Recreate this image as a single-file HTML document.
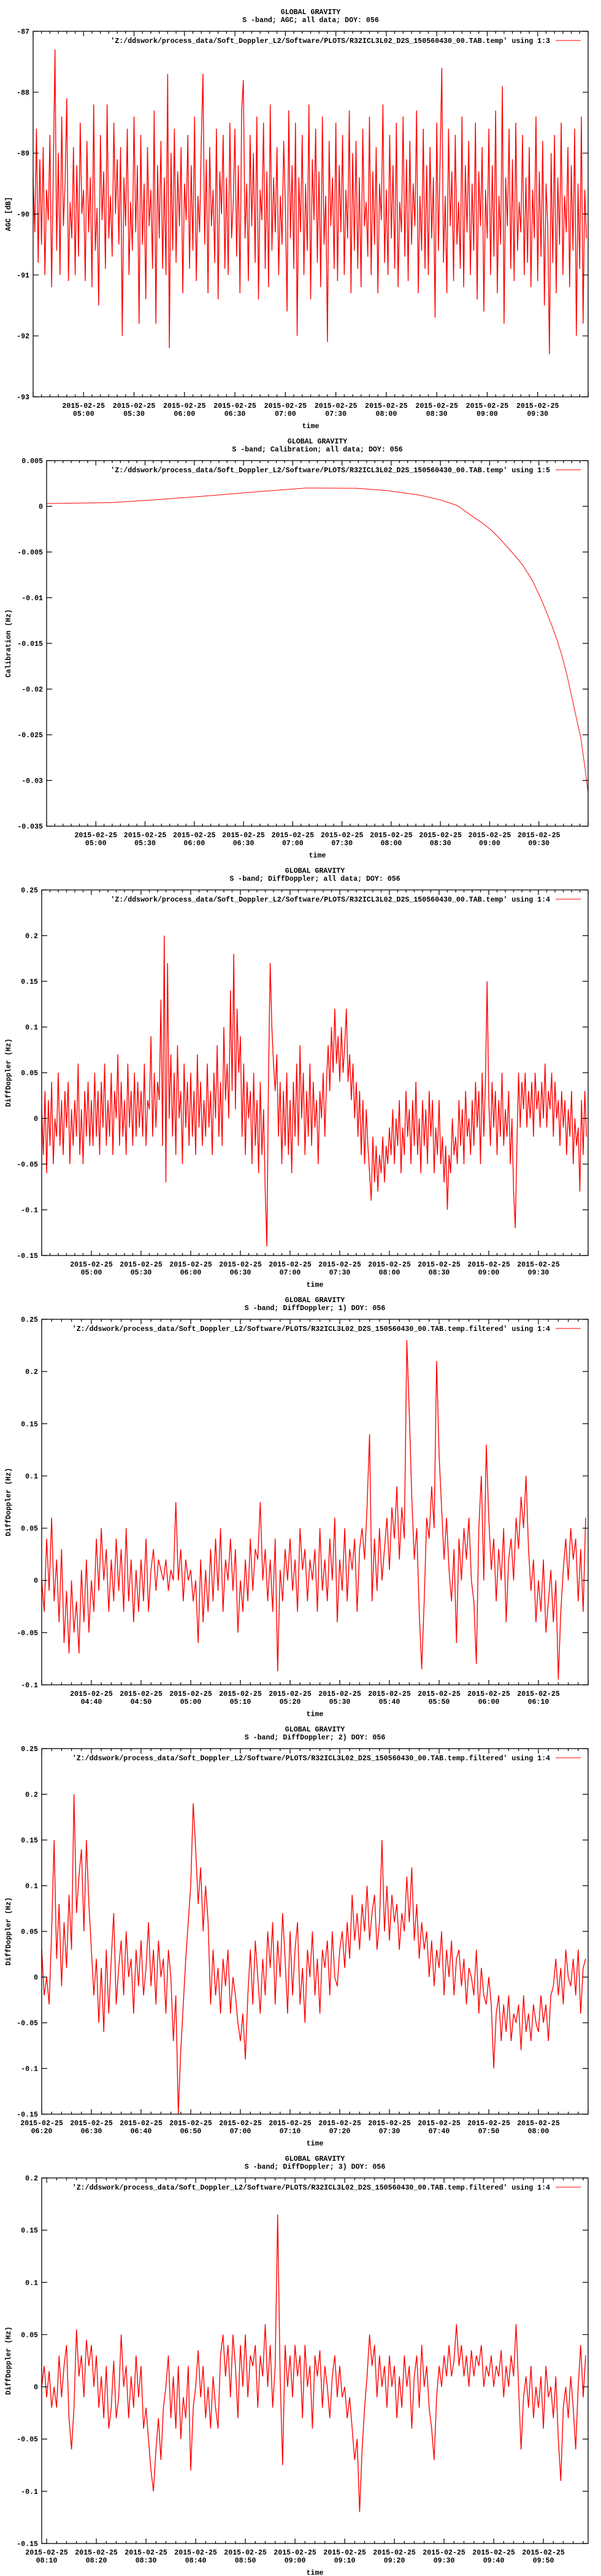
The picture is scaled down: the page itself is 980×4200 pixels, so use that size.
<!DOCTYPE html>
<html><head><meta charset="utf-8">
<style>
html,body{margin:0;padding:0;background:#fff;}
svg{display:block;}
text{font-family:"Liberation Mono","DejaVu Sans Mono",monospace;font-weight:bold;font-size:11.6px;fill:#000;}
</style></head>
<body>
<svg id="root" width="980" height="4200" viewBox="0 0 980 4200" xmlns="http://www.w3.org/2000/svg"></svg>
<script>
// ---------- DATA ----------
// Panel 1: AGC [dB], one sample per minute from 04:30
const agcValues = [
-89.4,-90.3,-88.6,-90.8,-89.1,-90.5,-88.9,-91.0,-89.6,-90.1,-88.7,-91.2,-89.3,-87.3,-90.6,-89.0,-91.0,-88.4,-90.2,-89.5,-88.1,-91.1,-89.8,-90.4,-88.9,-91.0,-89.2,-90.7,-88.5,-90.0,
-89.6,-91.1,-88.8,-90.3,-89.4,-91.2,-88.2,-90.6,-89.9,-91.5,-88.7,-90.1,-89.3,-90.9,-88.2,-90.4,-89.7,-90.7,-88.5,-90.0,-89.1,-90.5,-88.9,-92.0,-89.4,-90.2,-88.6,-91.0,-89.8,-90.6,
-88.4,-90.3,-89.2,-91.8,-88.7,-90.5,-89.5,-91.4,-88.9,-90.2,-89.6,-90.9,-88.3,-91.8,-89.2,-90.4,-88.8,-90.9,-89.4,-91.0,-87.7,-92.2,-89.0,-90.6,-88.6,-90.8,-89.3,-90.2,-88.9,-91.3,
-89.5,-90.1,-88.7,-90.9,-89.2,-90.6,-88.4,-91.1,-89.7,-90.3,-88.8,-87.7,-90.5,-89.1,-91.3,-88.9,-90.2,-89.6,-90.8,-88.6,-91.4,-89.3,-90.0,-88.7,-90.9,-89.4,-91.0,-88.5,-90.4,-89.8,
-88.6,-90.7,-89.2,-91.3,-88.3,-87.8,-90.4,-89.5,-91.1,-88.7,-90.2,-89.0,-90.8,-88.4,-91.4,-89.6,-90.1,-88.5,-90.9,-89.3,-91.2,-88.2,-90.6,-89.4,-90.3,-88.9,-91.0,-89.7,-90.5,-88.8,
-89.9,-91.6,-88.3,-90.4,-89.2,-90.9,-88.5,-92.0,-89.4,-90.3,-88.7,-91.0,-89.5,-90.6,-88.2,-91.4,-89.1,-90.1,-88.6,-90.8,-89.3,-91.2,-88.4,-90.5,-89.7,-92.1,-88.8,-90.2,-89.4,-90.9,
-88.5,-91.1,-89.2,-90.3,-88.7,-91.0,-89.6,-90.4,-88.3,-91.3,-89.0,-90.6,-88.8,-90.9,-89.4,-91.2,-88.6,-90.2,-89.8,-90.7,-88.4,-91.0,-89.3,-90.5,-88.9,-91.3,-89.5,-90.1,-88.2,-90.8,
-89.6,-91.0,-88.7,-90.4,-89.2,-90.9,-88.5,-91.2,-89.8,-90.3,-88.4,-90.7,-89.1,-91.1,-88.8,-90.5,-89.5,-90.2,-88.3,-91.3,-89.7,-90.6,-88.6,-90.9,-89.2,-91.0,-88.9,-90.4,-89.4,-91.7,
-88.5,-90.6,-89.1,-87.6,-90.8,-89.7,-91.3,-88.6,-90.2,-89.3,-91.1,-88.7,-90.5,-89.8,-90.9,-88.4,-91.2,-89.2,-90.3,-88.8,-91.0,-89.5,-90.6,-88.5,-91.4,-89.3,-90.2,-88.9,-91.6,-89.6,
-90.4,-88.6,-91.0,-89.2,-90.7,-88.3,-91.3,-89.7,-90.5,-87.9,-91.8,-89.4,-90.2,-88.6,-90.9,-89.1,-91.1,-88.5,-90.6,-89.8,-90.3,-88.7,-91.0,-89.4,-90.8,-88.9,-91.2,-89.6,-90.4,-88.4,
-91.1,-89.3,-90.7,-88.8,-91.5,-89.5,-90.2,-92.3,-89.0,-90.8,-88.7,-91.3,-89.4,-90.5,-88.5,-91.0,-89.7,-90.3,-88.9,-91.2,-89.2,-90.6,-88.6,-92.0,-89.5,-90.9,-88.4,-91.8,-89.6,-90.4
];
// Panel 2: Calibration (Hz), times in minutes from 04:30
const calTimes = [0,39,65,95,129,158,189,208,227,240,250,258,266,271,277,283,290,296,302,308,311,314,317,320,323,325.5,328,330];
const calValues = [0.0003,0.0004,0.0007,0.0011,0.0016,0.0020,0.00197,0.00171,0.00123,0.0007,0.0001,-0.0009,-0.0019,-0.0026,-0.0037,-0.0049,-0.0064,-0.0081,-0.0104,-0.0131,-0.0146,-0.0163,-0.0184,-0.0208,-0.0233,-0.0253,-0.0285,-0.0314];
// Panel 3: DiffDoppler all data, one sample per minute from 04:30
const diffAllValues = [
0.01,-0.04,0.03,-0.06,0.02,-0.03,0.04,-0.05,0.0,-0.02,0.05,-0.03,0.02,-0.04,0.03,-0.01,0.04,-0.05,0.01,-0.03,0.02,-0.02,0.06,-0.04,0.01,-0.05,0.03,-0.02,0.04,-0.03,
0.02,-0.03,0.05,-0.02,0.03,-0.04,0.04,-0.01,0.06,-0.03,0.02,-0.02,0.05,-0.04,0.03,0.0,0.07,-0.03,0.04,-0.02,0.02,-0.04,0.06,-0.01,0.03,-0.03,0.05,-0.02,0.04,-0.01,
0.03,-0.02,0.06,-0.03,0.02,0.01,0.09,-0.02,0.05,-0.01,0.04,0.02,0.13,-0.03,0.2,-0.07,0.17,0.0,0.07,-0.02,0.05,-0.04,0.08,0.0,0.03,-0.05,0.06,-0.01,0.04,-0.03,
0.05,-0.02,0.03,-0.04,0.07,-0.01,0.04,-0.03,0.02,-0.02,0.06,-0.01,0.03,-0.04,0.05,0.0,0.08,-0.02,0.04,-0.03,0.1,0.02,0.06,0.0,0.14,0.03,0.18,0.01,0.12,0.05,
0.09,-0.02,0.06,-0.04,0.04,0.0,0.03,-0.05,0.05,-0.03,0.02,-0.06,0.04,-0.04,0.01,-0.08,-0.14,0.05,0.17,0.1,0.06,0.03,0.07,-0.02,0.04,-0.05,0.03,-0.03,0.05,-0.04,
0.02,-0.06,0.04,-0.02,0.06,-0.03,0.08,0.0,0.05,-0.04,0.03,-0.02,0.06,-0.03,0.04,-0.01,0.02,-0.05,0.03,0.0,0.05,-0.02,0.04,0.08,0.03,0.1,0.05,0.12,0.06,0.09,
0.04,0.1,0.05,0.08,0.12,0.04,0.07,0.02,0.06,0.0,0.04,-0.02,0.03,-0.04,0.02,-0.05,0.01,-0.03,-0.06,-0.09,-0.02,-0.07,-0.03,-0.08,-0.04,-0.06,-0.02,-0.07,-0.03,-0.05,
-0.01,-0.04,0.01,-0.05,0.0,-0.03,0.02,-0.06,-0.01,-0.04,0.03,-0.02,0.01,-0.05,0.02,-0.03,0.04,-0.04,0.0,-0.06,0.02,-0.03,0.01,-0.05,0.03,-0.02,0.02,-0.06,-0.01,-0.04,
0.02,-0.05,-0.02,-0.07,-0.03,-0.1,-0.04,-0.06,0.0,-0.04,-0.02,-0.05,0.02,-0.03,0.01,-0.05,0.03,-0.02,0.0,-0.04,0.02,-0.03,0.04,-0.01,0.03,-0.05,0.05,-0.02,0.04,0.15,
0.02,-0.03,0.04,-0.01,0.03,-0.04,0.02,-0.02,0.05,-0.03,0.01,-0.02,0.03,-0.05,0.0,-0.08,-0.12,-0.03,0.05,-0.01,0.04,0.01,0.05,-0.01,0.03,0.0,0.04,-0.02,0.05,0.01,
0.03,-0.01,0.04,0.0,0.06,-0.01,0.03,0.01,0.05,-0.02,0.04,0.0,0.02,-0.03,0.03,-0.01,0.02,-0.04,0.01,-0.02,0.03,-0.05,0.0,-0.03,-0.01,-0.08,0.02,-0.04,0.03,-0.02
];
// Panel 4: filtered part 1, half-minute samples from 04:30
const diffPart1Values = [
0.0,-0.03,0.04,-0.01,0.06,-0.02,0.02,-0.04,0.03,-0.06,-0.01,-0.07,0.0,-0.05,-0.02,-0.07,0.01,-0.04,0.02,-0.05,
0.0,-0.03,0.04,-0.01,0.05,0.0,0.03,-0.03,0.02,-0.02,0.04,-0.01,0.03,-0.03,0.05,-0.02,0.02,-0.04,0.01,-0.03,
0.02,-0.02,0.04,-0.03,0.01,0.03,-0.01,0.02,0.01,0.0,0.02,-0.01,0.01,0.0,0.075,0.0,0.03,-0.02,0.02,0.0,
0.01,-0.02,0.0,-0.06,0.02,-0.04,0.01,-0.03,0.03,-0.02,0.04,-0.01,0.05,-0.03,0.02,0.0,0.04,-0.01,0.03,-0.05,
0.0,-0.03,0.02,-0.02,0.04,-0.01,0.03,0.02,0.075,0.0,0.03,-0.02,0.02,-0.03,0.04,-0.087,0.01,-0.02,0.03,0.0,
0.04,-0.01,0.02,-0.03,0.05,0.01,0.03,-0.02,0.02,0.0,0.03,-0.03,0.05,-0.01,0.02,-0.02,0.04,0.0,0.06,-0.04,
0.02,-0.01,0.05,-0.02,0.03,0.01,0.04,-0.03,0.03,0.05,0.02,0.07,0.14,-0.02,0.04,-0.01,0.05,0.0,0.03,0.06,
0.01,0.07,0.04,0.09,0.02,0.07,0.04,0.23,0.16,0.08,0.02,0.05,-0.03,-0.085,-0.02,0.06,0.04,0.09,0.05,0.21,
0.12,0.07,0.02,0.06,0.01,-0.02,0.03,-0.06,0.04,0.0,0.05,0.02,0.06,0.0,-0.02,-0.08,0.05,0.1,0.0,0.13,
0.06,0.01,0.04,-0.02,0.03,0.0,0.05,-0.04,0.02,0.04,0.0,0.06,0.03,0.08,0.05,0.1,0.03,-0.01,0.02,-0.04,
0.0,-0.03,0.02,-0.05,-0.02,0.01,-0.04,0.0,-0.095,-0.03,0.01,0.04,0.0,0.05,0.02,0.04,-0.02,0.03,-0.03,0.06
];
// Panel 5: filtered part 2, half-minute samples from 06:20
const diffPart2Values = [
0.03,-0.02,0.0,-0.03,0.05,0.15,0.02,0.08,-0.01,0.06,0.01,0.09,0.03,0.2,0.07,0.11,0.14,0.05,0.15,0.08,
0.03,-0.02,0.02,-0.05,0.01,-0.06,0.03,-0.04,0.02,0.07,-0.03,0.01,0.04,-0.02,0.05,0.0,0.02,-0.04,0.03,-0.01,
0.04,-0.02,0.01,0.06,-0.01,0.03,-0.03,0.04,0.0,0.02,-0.04,0.03,0.0,-0.07,-0.02,-0.15,-0.08,-0.03,0.02,0.06,
0.1,0.19,0.14,0.08,0.12,0.05,0.1,0.06,-0.03,0.03,-0.02,0.01,-0.04,0.02,-0.01,0.03,-0.04,0.0,-0.02,-0.05,
-0.07,-0.04,-0.09,-0.02,0.03,-0.03,0.04,0.0,-0.04,0.02,-0.02,0.05,0.01,0.06,-0.03,0.04,0.0,0.07,0.02,-0.04,
0.05,-0.02,0.03,0.06,-0.03,0.01,-0.05,0.03,0.0,0.05,-0.02,0.02,-0.04,0.03,0.01,0.04,-0.02,0.05,0.0,-0.01,
0.03,0.05,0.01,0.06,0.02,0.09,0.04,0.07,0.03,0.08,0.05,0.1,0.04,0.07,0.09,0.03,0.06,0.15,0.05,0.1,
0.04,0.09,0.06,0.08,0.03,0.07,0.05,0.11,0.06,0.12,0.04,0.08,0.02,0.06,0.03,0.05,0.0,0.04,-0.01,0.03,
0.01,0.05,-0.02,0.03,0.0,0.04,-0.02,0.02,0.03,-0.01,0.02,-0.03,0.01,0.0,-0.02,0.03,-0.04,0.01,-0.02,-0.03,
0.0,-0.03,-0.1,-0.04,-0.02,-0.07,-0.03,-0.06,-0.02,-0.07,-0.04,-0.05,-0.03,-0.08,-0.02,-0.06,-0.04,-0.07,-0.03,-0.05,
-0.06,-0.02,-0.05,-0.03,-0.07,-0.02,-0.01,0.02,-0.02,0.01,-0.03,0.03,0.0,-0.01,0.02,-0.02,0.03,-0.04,0.01,0.02
];
// Panel 6: filtered part 3, half-minute samples from 08:09
const diffPart3Values = [
0.0,0.02,-0.01,0.015,-0.02,0.0,-0.02,0.03,-0.01,0.02,0.04,-0.03,-0.06,-0.02,0.055,0.01,0.03,-0.01,0.045,0.02,
0.04,0.0,0.03,-0.02,0.01,-0.03,0.02,-0.04,-0.02,0.025,-0.03,-0.01,0.05,0.0,0.02,-0.03,0.01,-0.02,0.03,-0.01,
0.02,-0.04,-0.02,-0.05,-0.08,-0.1,-0.06,-0.03,-0.07,-0.02,0.0,0.03,-0.03,0.01,-0.04,0.02,-0.05,-0.01,-0.03,0.02,
-0.08,-0.02,0.0,0.035,-0.01,0.02,-0.03,0.0,-0.04,0.01,-0.02,-0.04,0.03,0.05,0.01,0.04,-0.01,0.05,0.02,-0.03,
0.04,0.0,0.05,-0.01,0.03,0.02,0.04,-0.02,0.03,0.01,0.06,0.0,0.04,-0.02,0.02,0.165,0.01,-0.075,0.04,0.0,
0.03,-0.01,0.04,0.01,0.03,-0.03,0.04,0.0,0.02,-0.04,0.03,0.01,0.035,-0.02,0.02,0.0,-0.03,0.01,0.03,-0.01,
0.02,-0.01,0.0,-0.03,-0.01,-0.04,-0.07,-0.05,-0.12,-0.06,-0.02,0.01,0.05,0.02,0.04,-0.01,0.03,0.0,0.02,-0.02,
0.03,0.0,0.02,-0.03,0.01,-0.02,0.03,0.0,0.02,-0.04,0.01,0.03,-0.02,0.04,0.0,0.02,-0.02,-0.04,-0.07,-0.01,
0.02,0.0,0.03,0.01,0.04,0.01,0.025,0.06,0.02,0.04,0.01,0.03,0.0,0.035,0.01,0.03,0.02,0.04,0.0,0.02,
0.01,0.03,0.0,0.02,0.01,0.035,-0.01,0.02,0.0,0.03,0.01,0.06,0.0,-0.06,-0.01,0.01,-0.02,0.02,-0.03,0.0,
-0.02,0.01,-0.04,0.02,-0.01,0.0,-0.03,0.01,-0.05,-0.09,-0.02,0.0,-0.03,0.01,-0.02,-0.06,0.0,0.04,-0.01,0.03
];
// Tick labels
const agcTicks = [-87,-88,-89,-90,-91,-92,-93];
const agcTickLabels = ["-87","-88","-89","-90","-91","-92","-93"];
const calTicks = [0.005,0,-0.005,-0.01,-0.015,-0.02,-0.025,-0.03,-0.035];
const calTickLabels = ["0.005","0","-0.005","-0.01","-0.015","-0.02","-0.025","-0.03","-0.035"];
const diffAllTicks = [0.25,0.2,0.15,0.1,0.05,0,-0.05,-0.1,-0.15];
const diffAllTickLabels = ["0.25","0.2","0.15","0.1","0.05","0","-0.05","-0.1","-0.15"];
const diffP1Ticks = [0.25,0.2,0.15,0.1,0.05,0,-0.05,-0.1];
const diffP1TickLabels = ["0.25","0.2","0.15","0.1","0.05","0","-0.05","-0.1"];
const diffP3Ticks = [0.2,0.15,0.1,0.05,0,-0.05,-0.1,-0.15];
const diffP3TickLabels = ["0.2","0.15","0.1","0.05","0","-0.05","-0.1","-0.15"];
const longTimeLabels = ["05:00","05:30","06:00","06:30","07:00","07:30","08:00","08:30","09:00","09:30"];
const part1TimeLabels = ["04:40","04:50","05:00","05:10","05:20","05:30","05:40","05:50","06:00","06:10"];
const part2TimeLabels = ["06:20","06:30","06:40","06:50","07:00","07:10","07:20","07:30","07:40","07:50","08:00"];
const part3TimeLabels = ["08:10","08:20","08:30","08:40","08:50","09:00","09:10","09:20","09:30","09:40","09:50"];

// ---------- DRAWING ----------
const NS = "http://www.w3.org/2000/svg";
const root = document.getElementById("root");
function mk(tag, parent){ const e = document.createElementNS(NS, tag); parent.appendChild(e); return e; }
function hm(s){ const p = s.split(":"); return (+p[0])*60 + (+p[1]); }

function panel(cfg){
  const g = mk("g", root);
  g.setAttribute("transform", "translate(0," + cfg.oy + ")");
  
  
  const L = cfg.left, R = 959, T = 51, B = 647;
  const xs = m => L + (m - cfg.t0) / (cfg.t1 - cfg.t0) * (R - L);
  const ys = v => T + (cfg.ymax - v) / (cfg.ymax - cfg.ymin) * (B - T);
  const cx = (L + R) / 2;
  const t1 = mk("text", g); t1.setAttribute("x", cx); t1.setAttribute("y", 23); t1.setAttribute("text-anchor","middle"); t1.textContent = "GLOBAL GRAVITY";
  
  
  const t2 = mk("text", g); t2.setAttribute("x", cx); t2.setAttribute("y", 36); t2.setAttribute("text-anchor","middle"); t2.textContent = cfg.subtitle;
  
  
  const pts = [];
  for (let i = 0; i < cfg.values.length; i++) {
    const m = cfg.times ? cfg.times[i] : cfg.t0 + i * cfg.step;
    pts.push(xs(m).toFixed(2) + "," + ys(cfg.values[i]).toFixed(2));
  }
  const pl = mk("polyline", g);
  pl.setAttribute("points", pts.join(" "));
  pl.setAttribute("fill", "none"); pl.setAttribute("stroke", "#ff0000"); pl.setAttribute("stroke-width", cfg.sw || "1");
  pl.setAttribute("stroke-linejoin", "bevel");
  
  
  const fr = mk("rect", g);
  fr.setAttribute("x", L); fr.setAttribute("y", T); fr.setAttribute("width", R - L); fr.setAttribute("height", B - T);
  fr.setAttribute("fill", "none"); fr.setAttribute("stroke", "#000"); fr.setAttribute("stroke-width", "1.3");
  
  
  let d = "";
  cfg.yticks.forEach((v, i) => {
    const y = ys(v);
    d += "M" + L + "," + y + "h9M" + R + "," + y + "h-9";
    const tl = mk("text", g); tl.setAttribute("x", L - 6); tl.setAttribute("y", y + 4); tl.setAttribute("text-anchor", "end");
    tl.textContent = cfg.ylabels[i];
    
    
  });
  for (let m = Math.ceil(cfg.t0 / cfg.minor) * cfg.minor; m <= cfg.t1 + 0.01; m += cfg.minor) {
    const x = xs(m);
    const major = Math.abs(m / cfg.major - Math.round(m / cfg.major)) < 1e-6;
    const len = major ? 8 : 4;
    d += "M" + x + "," + B + "v-" + len + "M" + x + "," + T + "v" + len;
  }
  cfg.xlabels.forEach(lbl => {
    const x = xs(hm(lbl));
    const a = mk("text", g); a.setAttribute("x", x); a.setAttribute("y", 665); a.setAttribute("text-anchor","middle"); a.textContent = "2015-02-25";
    
    
    const b = mk("text", g); b.setAttribute("x", x); b.setAttribute("y", 678); b.setAttribute("text-anchor","middle"); b.textContent = lbl;
    
    
  });
  const tk = mk("path", g); tk.setAttribute("d", d); tk.setAttribute("stroke", "#000"); tk.setAttribute("stroke-width", "1.2"); tk.setAttribute("fill","none");
  
  
  const xt = mk("text", g); xt.setAttribute("x", cx); xt.setAttribute("y", 698); xt.setAttribute("text-anchor","middle"); xt.textContent = "time";
  
  
  const yt = mk("text", g); yt.setAttribute("transform", "translate(17,349) rotate(-90)"); yt.setAttribute("text-anchor","middle"); yt.textContent = cfg.ytitle;
  
  
  const lg = mk("g", g);
  
  
  const lt = mk("text", lg); lt.setAttribute("x", 897); lt.setAttribute("y", 70); lt.setAttribute("text-anchor","end"); lt.textContent = cfg.legend;
  
  
  const ll = mk("line", lg); ll.setAttribute("x1", 906); ll.setAttribute("x2", 947); ll.setAttribute("y1", 66); ll.setAttribute("y2", 66);
  ll.setAttribute("stroke", "#ff0000"); ll.setAttribute("stroke-width", "1");
  
  
}

const F = "'Z:/ddswork/process_data/Soft_Doppler_L2/Software/PLOTS/R32ICL3L02_D2S_150560430_00.TAB.temp";
panel({name:"agc-chart", oy:0, left:54, t0:hm("04:30"), t1:hm("10:00"), step:1, values:agcValues, sw:"1.4",
  ymin:-93, ymax:-87, yticks:agcTicks, ylabels:agcTickLabels, minor:5, major:30, xlabels:longTimeLabels,
  subtitle:"S -band; AGC; all data; DOY: 056", ytitle:"AGC [dB]", legend:F+"' using 1:3"});
panel({name:"calibration-chart", oy:700, left:76, t0:hm("04:30"), t1:hm("10:00"),
  times:calTimes.map(t => t + hm("04:30")), values:calValues,
  ymin:-0.035, ymax:0.005, yticks:calTicks, ylabels:calTickLabels, minor:5, major:30, xlabels:longTimeLabels,
  subtitle:"S -band; Calibration; all data; DOY: 056", ytitle:"Calibration (Hz)", legend:F+"' using 1:5"});
panel({name:"diffdoppler-all-chart", oy:1400, left:68, t0:hm("04:30"), t1:hm("10:00"), step:1, values:diffAllValues, sw:"1.4",
  ymin:-0.15, ymax:0.25, yticks:diffAllTicks, ylabels:diffAllTickLabels, minor:5, major:30, xlabels:longTimeLabels,
  subtitle:"S -band; DiffDoppler; all data; DOY: 056", ytitle:"DiffDoppler (Hz)", legend:F+"' using 1:4"});
panel({name:"diffdoppler-part1-chart", oy:2100, left:68, t0:hm("04:30"), t1:hm("06:20"), step:0.5, values:diffPart1Values, sw:"1.4",
  ymin:-0.1, ymax:0.25, yticks:diffP1Ticks, ylabels:diffP1TickLabels, minor:2, major:10, xlabels:part1TimeLabels,
  subtitle:"S -band; DiffDoppler; 1) DOY: 056", ytitle:"DiffDoppler (Hz)", legend:F+".filtered' using 1:4"});
panel({name:"diffdoppler-part2-chart", oy:2800, left:68, t0:hm("06:20"), t1:hm("08:10"), step:0.5, values:diffPart2Values, sw:"1.4",
  ymin:-0.15, ymax:0.25, yticks:diffAllTicks, ylabels:diffAllTickLabels, minor:2, major:10, xlabels:part2TimeLabels,
  subtitle:"S -band; DiffDoppler; 2) DOY: 056", ytitle:"DiffDoppler (Hz)", legend:F+".filtered' using 1:4"});
panel({name:"diffdoppler-part3-chart", oy:3500, left:68, t0:hm("08:09"), t1:hm("09:59"), step:0.5, values:diffPart3Values, sw:"1.4",
  ymin:-0.15, ymax:0.2, yticks:diffP3Ticks, ylabels:diffP3TickLabels, minor:2, major:10, xlabels:part3TimeLabels,
  subtitle:"S -band; DiffDoppler; 3) DOY: 056", ytitle:"DiffDoppler (Hz)", legend:F+".filtered' using 1:4"});
</script>
</body></html>
